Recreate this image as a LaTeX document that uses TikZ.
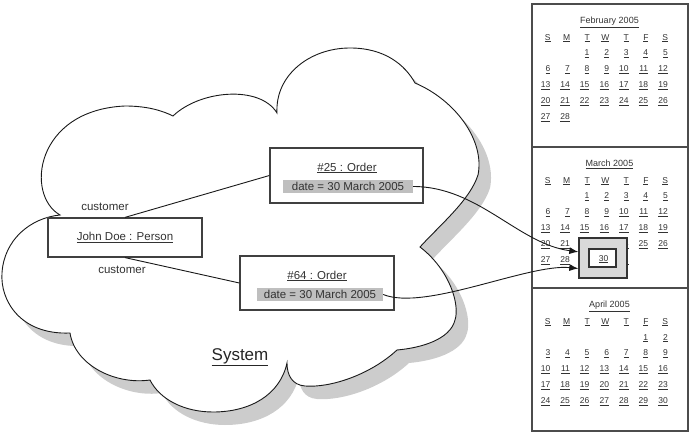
\documentclass[tikz,border=0pt]{standalone}
\usepackage{fontspec}
\setmainfont{Liberation Sans}
\usetikzlibrary{arrows.meta}
\newcommand\cloudshape{(60,215) .. controls (25,195) and (35,110) .. (125,106) .. controls (148,106) and (163,111) .. (173,116) .. controls (200,90) and (260,85) .. (277,113) .. controls (275,75) and (310,48) .. (350,48) .. controls (385,48) and (405,65) .. (415,83) .. controls (455,100) and (485,140) .. (478,175) .. controls (470,200) and (440,225) .. (420,247) .. controls (450,270) and (460,305) .. (455,320) .. controls (450,340) and (420,348) .. (397,350) .. controls (370,375) and (330,388) .. (305,386) .. controls (292,385) and (287,375) .. (287,363) .. controls (280,395) and (250,412) .. (213,412) .. controls (185,412) and (160,400) .. (150,380) .. controls (115,385) and (75,365) .. (70,333) .. controls (20,335) and (0,300) .. (2,273) .. controls (4,240) and (30,218) .. (60,215) -- cycle}
\newcommand\calmonth[5]{%
  \node[caltitle,anchor=base] (#1-title) at (609.5,#3+16.5+3.3) {\underline{#2}};
  \foreach \h [count=\i from 0] in {S,M,T,W,T,F,S}
    \node[day,anchor=base east] (#1-h\i) at ({550.8+19.57*\i},{#3+33+3.2}) {\underline{\h}};
  \foreach \d in {1,...,#5}{
    \pgfmathtruncatemacro\cpos{\d+#4-1}
    \pgfmathtruncatemacro\ccol{mod(\cpos,7)}
    \pgfmathtruncatemacro\crow{floor(\cpos/7)}
    \node[day,anchor=base east] (#1-\d) at ({550.5+19.57*\ccol},{#3+48.8+15.9*\crow+3.2}) {\underline{\d}};
  }%
}
\begin{document}
\begin{tikzpicture}[x=1pt,y=-1pt,
  lbl/.style={font=\fontsize{11.5}{13}\selectfont, text=black!80, inner sep=0pt},
  objbox/.style 2 args={draw=black!75, line width=1.2pt, fill=white, minimum width=#1, minimum height=#2, inner sep=0pt},
  field/.style 2 args={fill=black!25, minimum width=#1, minimum height=#2, inner sep=0pt, font=\fontsize{11.5}{13}\selectfont, text=black!80},
  day/.style={font=\fontsize{8.5}{10}\selectfont, text=black!80, inner sep=0pt},
  caltitle/.style={font=\fontsize{9}{11}\selectfont, text=black!80, inner sep=0pt},
  calframe/.style={draw=black!70, line width=1.5pt, fill=white},
  conn/.style={draw=black!90, line width=0.9pt},
  arr/.style={draw=black!90, line width=0.9pt, -{Latex[length=9pt,width=7pt]}},
  selbox/.style 2 args={draw=black!80, line width=1.4pt, minimum width=#1, minimum height=#2, inner sep=0pt}
]
\useasboundingbox (0,0) rectangle (693,438);

% cloud with shadow
\begin{scope}[shift={(12,13)}]
  \fill[black!20] \cloudshape;
\end{scope}
\filldraw[fill=white, draw=black!90, line width=0.9pt] \cloudshape;

% objects
\node[objbox={154}{39}] (jd) at (125,237.5) {};
\node[lbl] (jdtext) at (125,237.5) {\underline{John Doe : Person}};

\node[objbox={153}{55}] (o25) at (346.5,175.5) {};
\node[lbl] (o25title) at (347,168) {\underline{\#25 : Order}};
\node[field={130}{13}] (d25) at (348,186.5) {date = 30 March 2005};

\node[objbox={154}{54}] (o64) at (317,283) {};
\node[lbl] (o64title) at (317,276) {\underline{\#64 : Order}};
\node[field={126}{13}] (d64) at (320,294.5) {date = 30 March 2005};

\draw[conn] (jd.north) -- (o25.west);
\draw[conn] (jd.south) -- (o64.west);
\node[lbl] (c1) at (105,207) {customer};
\node[lbl] (c2) at (122,270) {customer};

\node[inner sep=0pt, font=\fontsize{17}{20}\selectfont, text=black!85] (sys) at (240,357) {\underline{System}};

% calendar
\draw[calframe] (532,4) rectangle (688,147);
\draw[calframe] (532,147) rectangle (688,288);
\draw[calframe] (532,288) rectangle (688,431);
\calmonth{feb}{February 2005}{4}{2}{28}
\calmonth{mar}{March 2005}{147}{2}{31}
\calmonth{apr}{April 2005}{288}{5}{30}

% selected date
\node[selbox={48}{40}, fill=black!15] (sel) at (603,258) {};
\node[selbox={27}{18}, fill=white] (selin) at (602.5,258) {};
\node[day,anchor=base] (sel30) at (603.5,261.2) {\underline{30}};

% arrows
\draw[arr] (d25.east) .. controls +(65,0) and +(-60,-8) .. (sel.166);
\draw[arr] (d64.east) .. controls +(42,17) and +(-50,-5) .. (sel.203);
\end{tikzpicture}
\end{document}
